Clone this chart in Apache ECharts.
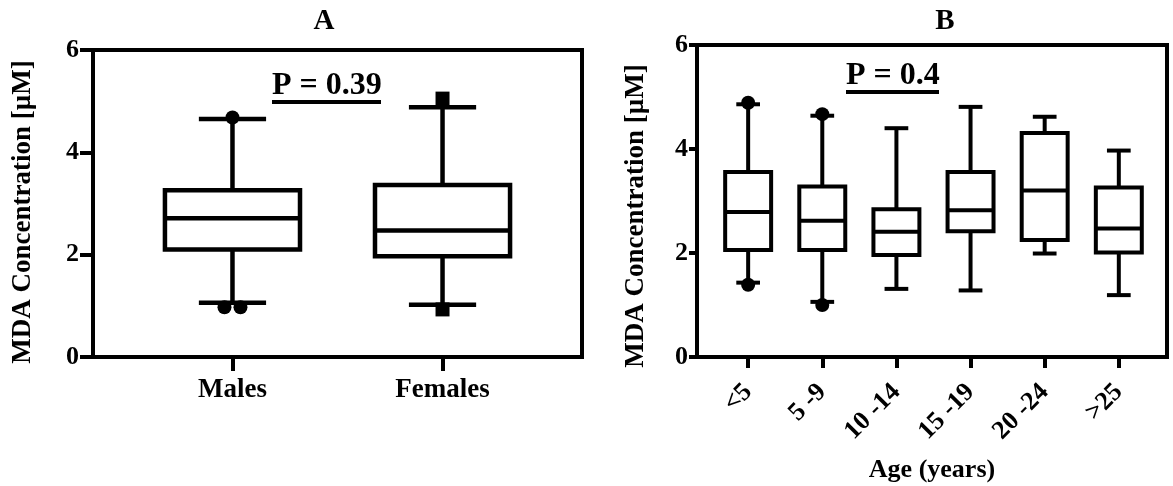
<!DOCTYPE html>
<html>
<head>
<meta charset="utf-8">
<script src="https://cdn.jsdelivr.net/npm/echarts@6/dist/echarts.min.js"></script>
<style>
html,body{margin:0;padding:0;background:#fff;}
#c{width:1173px;height:486px;}
</style>
</head>
<body>
<div id="c"></div>
<script>
// ---------- data ----------
const catsA = ['Males', 'Females'];
// [low whisker, Q1, median, Q3, high whisker]
const statsA = [
  [1.06, 2.10, 2.71, 3.26, 4.65],
  [1.02, 1.97, 2.47, 3.36, 4.88]
];
const outliersA = [
  [4.68, 0.97, 0.97],
  [5.05, 0.93]
];
const catsB = ['<5', '5 -9', '10 -14', '15 -19', '20 -24', '>25'];
const statsB = [
  [1.43, 2.06, 2.79, 3.56, 4.86],
  [1.06, 2.06, 2.62, 3.28, 4.64],
  [1.31, 1.96, 2.41, 2.84, 4.40],
  [1.28, 2.42, 2.82, 3.56, 4.81],
  [1.99, 2.25, 3.20, 4.31, 4.62],
  [1.19, 2.01, 2.47, 3.26, 3.97]
];
const outliersB = [
  [4.89, 1.39],
  [4.67, 1.00],
  [], [], [], []
];
const yTicks = [0, 2, 4, 6];
const pTextA = 'P = 0.39';
const pTextB = 'P = 0.4';
const yName = 'MDA Concentration [µM]';
const xNameB = 'Age (years)';

// ---------- helpers ----------
const FONT = "'Liberation Serif','Times New Roman',serif";
function boxData(stats) {
  return stats.map((s, i) => [i, s[0], s[1], s[2], s[3], s[4]]);
}
function outlierData(outs) {
  const res = [];
  outs.forEach((vals, i) => {
    const seen = {};
    vals.forEach(v => { seen[v] = (seen[v] || 0) + 1; });
    const idx = {};
    vals.forEach(v => {
      const n = seen[v];
      idx[v] = (idx[v] || 0);
      const off = n > 1 ? (idx[v] - (n - 1) / 2) * 16 : 0;
      idx[v]++;
      res.push({ value: [i, v], symbolOffset: [off, 0] });
    });
  });
  return res;
}
function boxRenderer(bw, cw, lw) {
  return function (params, api) {
    const x = api.value(0);
    const lo = api.value(1), q1 = api.value(2), md = api.value(3), q3 = api.value(4), hi = api.value(5);
    const c = (a, b) => api.coord([a, b]);
    const tl = c(x - bw / 2, q3), br = c(x + bw / 2, q1);
    const mL = c(x - bw / 2, md), mR = c(x + bw / 2, md);
    const cx = c(x, 0)[0];
    const hiP = c(x, hi), loP = c(x, lo);
    const capL = c(x - cw / 2, 0)[0], capR = c(x + cw / 2, 0)[0];
    const st = { stroke: '#000', lineWidth: lw, fill: null };
    return {
      type: 'group',
      children: [
        { type: 'line', shape: { x1: cx, y1: tl[1], x2: cx, y2: hiP[1] }, style: st },
        { type: 'line', shape: { x1: cx, y1: br[1], x2: cx, y2: loP[1] }, style: st },
        { type: 'line', shape: { x1: capL, y1: hiP[1], x2: capR, y2: hiP[1] }, style: st },
        { type: 'line', shape: { x1: capL, y1: loP[1], x2: capR, y2: loP[1] }, style: st },
        { type: 'rect', shape: { x: tl[0], y: tl[1], width: br[0] - tl[0], height: br[1] - tl[1] },
          style: { stroke: '#000', lineWidth: lw, fill: '#fff' } },
        { type: 'line', shape: { x1: mL[0], y1: mL[1], x2: mR[0], y2: mR[1] }, style: st }
      ]
    };
  };
}
function yAxisCfg(gi, tickLen, labelMargin, nameGap, namePad) {
  return {
    type: 'value', gridIndex: gi, min: yTicks[0], max: yTicks[yTicks.length - 1], interval: yTicks[1] - yTicks[0],
    axisLine: { show: true, onZero: false, lineStyle: { color: '#000', width: 4 } },
    axisTick: { show: true, inside: false, length: tickLen, lineStyle: { color: '#000', width: 4 } },
    axisLabel: { margin: labelMargin, color: '#000', fontFamily: FONT, fontWeight: 'bold', fontSize: 26 },
    splitLine: { show: false },
    name: yName, nameLocation: 'middle', nameRotate: 90, nameGap: nameGap,
    nameTextStyle: { color: '#000', fontFamily: FONT, fontWeight: 'bold', fontSize: 27, padding: namePad }
  };
}

const chart = echarts.init(document.getElementById('c'), null, { renderer: 'canvas' });
const option = {
  backgroundColor: '#fff',
  animation: false,
  title: [
    { text: 'A', left: 319, top: 2, textAlign: 'center',
      textStyle: { fontFamily: FONT, fontWeight: 'bold', fontSize: 29, color: '#000' } },
    { text: 'B', left: 940, top: 2, textAlign: 'center',
      textStyle: { fontFamily: FONT, fontWeight: 'bold', fontSize: 29, color: '#000' } }
  ],
  grid: [
    { left: 93, top: 50, width: 489, height: 307, show: true, borderColor: '#000', borderWidth: 4,
      backgroundColor: 'transparent', containLabel: false, outerBoundsMode: 'none' },
    { left: 697, top: 45, width: 470, height: 312, show: true, borderColor: '#000', borderWidth: 4,
      backgroundColor: 'transparent', containLabel: false, outerBoundsMode: 'none' }
  ],
  xAxis: [
    {
      type: 'value', gridIndex: 0, min: -0.664, max: catsA.length - 1 + 0.664,
      axisLine: { show: true, onZero: false, lineStyle: { color: '#000', width: 4 } },
      axisTick: { show: true, inside: false, length: 14, customValues: catsA.map((_, i) => i), lineStyle: { color: '#000', width: 4 } },
      axisLabel: { customValues: catsA.map((_, i) => i), formatter: v => catsA[Math.round(v)], margin: 20,
        color: '#000', fontFamily: FONT, fontWeight: 'bold', fontSize: 27 },
      splitLine: { show: false }
    },
    {
      type: 'value', gridIndex: 1, min: -0.69, max: catsB.length - 1 + 0.65,
      axisLine: { show: true, onZero: false, lineStyle: { color: '#000', width: 4 } },
      axisTick: { show: true, inside: false, length: 11, customValues: catsB.map((_, i) => i), lineStyle: { color: '#000', width: 4 } },
      axisLabel: { customValues: catsB.map((_, i) => i), formatter: v => catsB[Math.round(v)], margin: 31, rotate: 45,
        color: '#000', fontFamily: FONT, fontWeight: 'bold', fontSize: 26 },
      splitLine: { show: false },
      name: xNameB, nameLocation: 'middle', nameGap: 100,
      nameTextStyle: { color: '#000', fontFamily: FONT, fontWeight: 'bold', fontSize: 26 }
    }
  ],
  yAxis: [
    yAxisCfg(0, 13, 14, 56, [0, 17, 0, 0]),
    yAxisCfg(1, 8, 9, 47, [0, 30, 0, 0])
  ],
  series: [
    { type: 'custom', xAxisIndex: 0, yAxisIndex: 0, renderItem: boxRenderer(0.643, 0.32, 4.5),
      encode: { x: 0, y: [1, 2, 3, 4, 5] }, data: boxData(statsA), z: 2 },
    { type: 'scatter', xAxisIndex: 0, yAxisIndex: 0, symbol: 'circle', symbolSize: 14,
      itemStyle: { color: '#000', opacity: 1 }, data: outlierData([outliersA[0], []]), z: 3 },
    { type: 'scatter', xAxisIndex: 0, yAxisIndex: 0, symbol: 'rect', symbolSize: 14,
      itemStyle: { color: '#000', opacity: 1 }, data: outlierData([[], outliersA[1]]), z: 3 },
    { type: 'custom', xAxisIndex: 1, yAxisIndex: 1, renderItem: boxRenderer(0.62, 0.32, 4),
      encode: { x: 0, y: [1, 2, 3, 4, 5] }, data: boxData(statsB), z: 2 },
    { type: 'scatter', xAxisIndex: 1, yAxisIndex: 1, symbol: 'circle', symbolSize: 14,
      itemStyle: { color: '#000', opacity: 1 }, data: outlierData(outliersB), z: 3 }
  ],
  graphic: [
    { type: 'text', left: 272, top: 70, style: { text: pTextA, fontFamily: FONT, fontWeight: 'bold', fontSize: 32, fill: '#000' } },
    { type: 'rect', left: 272, top: 100, shape: { width: 109, height: 4 }, style: { fill: '#000' } },
    { type: 'text', left: 846, top: 60, style: { text: pTextB, fontFamily: FONT, fontWeight: 'bold', fontSize: 32, fill: '#000' } },
    { type: 'rect', left: 846, top: 90, shape: { width: 93, height: 4 }, style: { fill: '#000' } }
  ]
};
chart.setOption(option);
</script>
</body>
</html>
